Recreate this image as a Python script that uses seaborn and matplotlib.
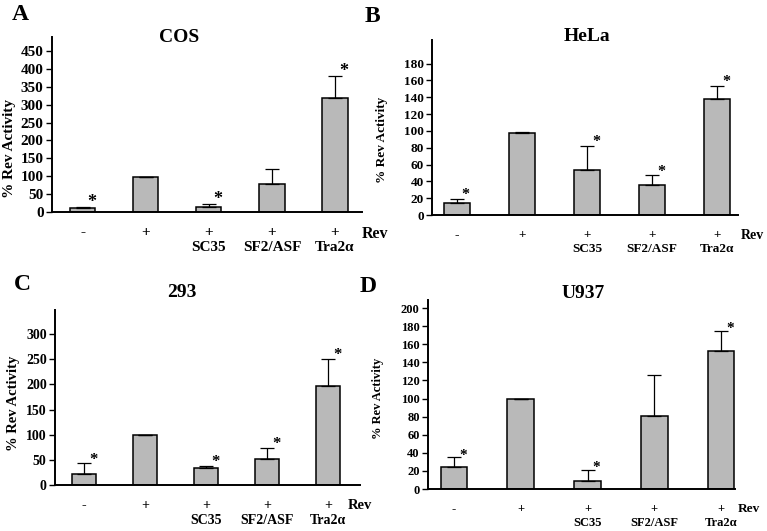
import numpy as np
import pandas as pd
import matplotlib
matplotlib.use("Agg")
import matplotlib.pyplot as plt
import seaborn as sns

# categories shared by all four panels
conditions = ["-", "+", "+\nSC35", "+\nSF2/ASF", "+\nTra2\u03b1"]

# % Rev activity (mean) and upper error (SD) per cell line
cos_vals = [10, 98, 13, 77, 318]
cos_sd = [4, 1, 10, 42, 62]
cos_star = [True, False, True, False, True]

hela_vals = [14, 98, 53, 36, 138]
hela_sd = [5, 1, 29, 11, 15]
hela_star = [True, False, True, True, True]

h293_vals = [21, 99, 33, 52, 197]
h293_sd = [22, 1, 5, 22, 53]
h293_star = [True, False, True, True, True]

u937_vals = [24, 99, 9, 81, 153]
u937_sd = [11, 1, 12, 45, 22]
u937_star = [True, False, True, False, True]

W, H = 767, 531
plt.rcParams["font.family"] = ["Liberation Serif", "DejaVu Serif"]
plt.rcParams["font.weight"] = "bold"

fig = plt.figure(figsize=(W / 100, H / 100), dpi=100)

panels = [
    # axes box in px (left, right, top, bottom), fonts and label spots per panel
    dict(title="COS", letter="A", vals=cos_vals, sd=cos_sd, star=cos_star,
         box=(52, 362, 37, 212), ymax=489, step=50, ytop=450, xlim=(-0.49, 4.43),
         fs=11, tx=0.41, ty=1.0, letter_xy=(20, 15), ylab_xy=(10, 149), ylab_fs=11, rev_dx=0),
    dict(title="HeLa", letter="B", vals=hela_vals, sd=hela_sd, star=hela_star,
         box=(432, 738, 40, 215), ymax=208, step=20, ytop=180, xlim=(-0.38, 4.32),
         fs=9.5, tx=0.507, ty=1.02, letter_xy=(372, 17), ylab_xy=(382, 140), ylab_fs=9.5, rev_dx=2),
    dict(title="293", letter="C", vals=h293_vals, sd=h293_sd, star=h293_star,
         box=(55, 360, 310, 485), ymax=348, step=50, ytop=300, xlim=(-0.48, 4.52),
         fs=10, tx=0.416, ty=1.10, letter_xy=(22, 285), ylab_xy=(14, 403), ylab_fs=10.5, rev_dx=-9),
    dict(title="U937", letter="D", vals=u937_vals, sd=u937_sd, star=u937_star,
         box=(428, 735, 300, 489), ymax=209, step=20, ytop=200, xlim=(-0.39, 4.21),
         fs=9, tx=0.505, ty=1.037, letter_xy=(368, 287), ylab_xy=(378, 398), ylab_fs=9, rev_dx=2),
]

for p in panels:
    l, r, t, b = p["box"]
    ax = fig.add_axes([l / W, 1 - b / H, (r - l) / W, (b - t) / H])
    df = pd.DataFrame({"cond": conditions, "val": p["vals"]})
    sns.barplot(data=df, x="cond", y="val", ax=ax, color="#b9b9b9",
                edgecolor="black", linewidth=1.1, width=0.4, saturation=1)
    xs = np.arange(len(conditions))
    ax.errorbar(xs, p["vals"], yerr=[np.zeros(len(xs)), p["sd"]], fmt="none",
                ecolor="black", elinewidth=0.9, capsize=5, capthick=0.9)
    for i, (v, s, st) in enumerate(zip(p["vals"], p["sd"], p["star"])):
        if st:
            ax.annotate("*", xy=(i, v + s), xytext=(6.5, -3), textcoords="offset points",
                        ha="center", va="bottom", fontsize=p["fs"] + 2)

    ax.set_xlim(*p["xlim"])
    ax.set_ylim(0, p["ymax"])
    ax.set_yticks(np.arange(0, p["ytop"] + 1, p["step"]))
    ax.tick_params(axis="y", direction="out", length=4, width=1, labelsize=p["fs"], pad=2)
    ax.tick_params(axis="x", length=0, labelsize=p["fs"], pad=10)
    for lab in ax.get_xticklabels():
        lab.set_linespacing(1.2)
        lab.set_fontweight("bold")
    for lab in ax.get_yticklabels():
        lab.set_fontweight("bold")
    ax.set_xlabel("")
    ax.set_ylabel("")
    sns.despine(ax=ax)
    ax.spines["left"].set_linewidth(1.4)
    ax.spines["bottom"].set_linewidth(1.4)

    ax.annotate("Rev", xy=(1, 0), xycoords="axes fraction", xytext=(p["rev_dx"], -10),
                textcoords="offset points", ha="left", va="top",
                fontsize=p["fs"] + 0.5, fontweight="bold")
    ax.text(p["tx"], p["ty"], p["title"], transform=ax.transAxes, ha="center",
            va="center", fontsize=14, fontweight="bold")
    fig.text(p["letter_xy"][0] / W, 1 - p["letter_xy"][1] / H, p["letter"],
             ha="center", va="center", fontsize=17, fontweight="bold")
    fig.text(p["ylab_xy"][0] / W, 1 - p["ylab_xy"][1] / H, "% Rev Activity",
             rotation=90, ha="center", va="center", fontsize=p["ylab_fs"], fontweight="bold")

fig.savefig("out.png", dpi=100)
